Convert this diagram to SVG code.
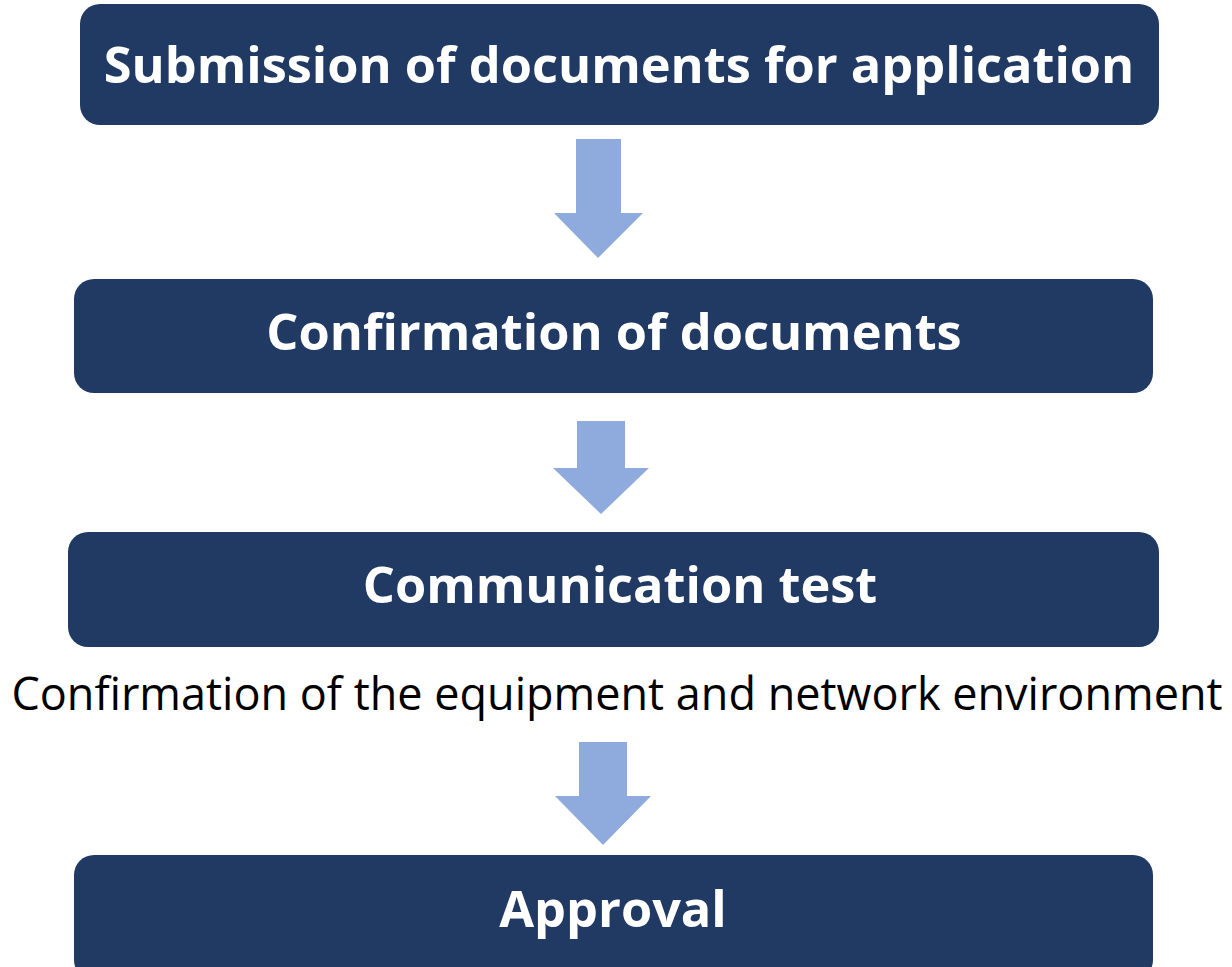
<svg xmlns="http://www.w3.org/2000/svg" width="1232" height="967" viewBox="0 0 1232 967">
<style>
.box{fill:#213A64;}
.t{font-family:"Open Sans","Noto Sans","DejaVu Sans",sans-serif;font-weight:bold;font-size:50.5px;fill:#FFFFFF;text-anchor:middle;}
.lbl{font-family:"Open Sans","Noto Sans","DejaVu Sans",sans-serif;font-size:45px;fill:#000000;text-anchor:middle;}
.arr{fill:#8FAADC;}
</style>
<rect width="1232" height="967" fill="#FFFFFF"/>
<g id="node1"><rect class="box" x="80" y="4" width="1079" height="121" rx="20"/><text class="t" x="619" y="83">Submission of documents for application</text></g>
<g id="node2"><rect class="box" x="74" y="279" width="1079" height="114" rx="20"/><text class="t" x="614" y="350">Confirmation of documents</text></g>
<g id="node3"><rect class="box" x="68" y="532" width="1091" height="115" rx="20"/><text class="t" x="620" y="603">Communication test</text></g>
<g id="node4"><rect class="box" x="74" y="855" width="1079" height="125" rx="20"/><text class="t" x="613" y="927">Approval</text></g>
<g id="label"><text class="lbl" x="617" y="710">Confirmation of the equipment and network environment</text></g>
<g id="connectors">
<polygon class="arr" points="576,139 621,139 621,213 643,213 598,258 554,213 576,213"/>
<polygon class="arr" points="577,421 625,421 625,468 649,468 601,514 553,468 577,468"/>
<polygon class="arr" points="579,742 627,742 627,796 651,796 603,845 555,796 579,796"/>
</g>
</svg>
